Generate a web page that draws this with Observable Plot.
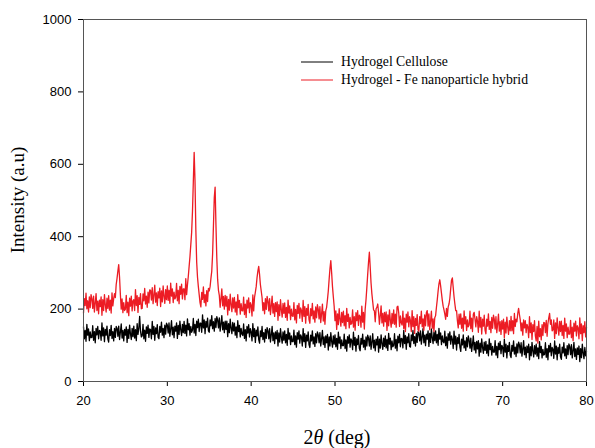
<!DOCTYPE html>
<html><head><meta charset="utf-8">
<script src="https://cdn.jsdelivr.net/npm/d3@7"></script>
<script src="https://cdn.jsdelivr.net/npm/@observablehq/plot@0.6"></script>
<style>
html,body{margin:0;padding:0;background:#fff;}
#chart{position:relative;width:595px;height:448px;}
</style></head><body><div id="chart"></div>
<script>
const startDeg = 20;
const stepDeg = 0.1;
const xTicks = [20, 30, 40, 50, 60, 70, 80];
const yTicks = [0, 200, 400, 600, 800, 1000];
const seriesNames = ["Hydrogel Cellulose", "Hydrogel - Fe nanoparticle hybrid"];
const seriesColors = ["#000000", "#ec1c24"];

// Hydrogel Cellulose, 20.0 .. 80.0 deg, 0.1 deg step (one row per degree)
const cellulose = [
151,118,141,111,158,128,145,113,137,121,
122,154,114,138,107,147,129,152,118,141,
139,114,162,126,148,110,144,128,153,118,
109,143,127,155,119,138,112,147,122,152,
147,125,153,116,136,159,120,141,112,144,
128,151,108,144,119,156,132,116,147,124,
153,120,143,113,160,130,147,180,139,123,
126,158,118,142,111,151,133,156,122,145,
143,118,166,130,152,114,148,132,157,122,
118,152,136,164,128,147,121,156,131,161,
156,134,162,125,145,168,129,150,121,153,
139,162,119,155,130,167,143,127,158,135,
166,133,156,126,173,143,160,128,152,136,
142,174,134,158,127,167,149,172,138,161,
161,136,184,148,170,132,166,150,175,140,
136,170,154,182,146,165,139,174,149,179,
170,148,176,139,159,182,143,164,135,167,
144,167,124,160,135,172,148,132,163,140,
161,128,151,121,168,138,155,123,147,131,
127,159,119,143,112,152,134,157,123,146,
137,112,160,124,146,108,142,126,151,116,
106,140,124,152,116,135,109,144,119,149,
140,118,146,109,129,152,113,134,105,137,
118,141,98,134,109,146,122,106,137,114,
140,107,130,100,147,117,134,102,126,110,
110,142,102,126,95,135,117,140,106,129,
123,98,146,110,132,94,128,112,137,102,
94,128,112,140,104,123,97,132,107,137,
129,107,135,98,118,141,102,123,94,126,
107,130,87,123,98,135,111,95,126,103,
129,96,119,89,136,106,123,91,115,99,
99,131,91,115,84,124,106,129,95,118,
113,88,136,100,122,84,118,102,127,92,
85,119,103,131,95,114,88,123,98,128,
120,98,126,89,109,132,93,114,85,117,
101,124,81,117,92,129,105,89,120,97,
126,93,116,86,133,103,120,88,112,96,
100,132,92,116,85,125,107,130,96,119,
118,93,141,105,127,89,123,107,132,97,
95,129,113,141,105,124,98,133,108,138,
134,112,140,103,123,146,107,128,99,131,
117,140,97,133,108,145,121,105,136,113,
140,107,130,100,147,117,134,102,126,110,
107,139,99,123,92,132,114,137,103,126,
116,91,139,103,125,87,121,105,130,95,
83,117,101,129,93,112,86,121,96,126,
114,92,120,83,103,126,87,108,79,111,
90,113,70,106,81,118,94,78,109,86,
111,78,101,71,118,88,105,73,97,81,
81,113,73,97,66,106,88,111,77,100,
94,69,117,81,103,65,99,83,108,73,
66,100,84,112,76,95,69,104,79,109,
101,79,107,70,90,113,74,95,66,98,
80,103,60,96,71,108,84,68,99,76,
103,70,93,63,110,80,97,65,89,73,
75,107,67,91,60,100,82,105,71,94,
89,64,112,76,98,60,94,78,103,68,
61,95,79,107,71,90,64,99,74,104,
96,74,102,65,85,108,69,90,61,93,
75,98,55,91,66,103,79,63,94,71,
84
];

// Hydrogel - Fe nanoparticle hybrid, 20.0 .. 80.0 deg, 0.1 deg step
const hybrid = [
189,229,210,244,201,223,192,234,204,240,
229,202,236,192,216,243,196,222,187,225,
207,234,183,226,196,240,212,192,230,202,
237,197,225,189,245,209,229,243,232,268,
285,305,323,288,240,200,228,190,218,196,
200,238,190,219,182,230,208,236,195,223,
226,196,254,210,237,191,232,213,243,201,
202,242,223,257,214,236,205,247,217,253,
252,225,259,215,239,266,219,245,210,248,
231,258,207,250,220,264,236,216,254,226,
264,224,252,216,272,236,256,218,247,228,
233,271,223,252,215,263,241,269,228,256,
256,226,284,240,267,290,318,345,378,412,
470,552,633,555,420,330,288,262,240,218,
206,246,227,261,218,240,209,251,221,257,
250,262,285,305,352,430,508,537,432,342,
282,252,238,205,229,256,209,235,200,238,
208,235,184,227,197,241,213,193,231,203,
232,192,220,184,240,204,224,186,215,196,
195,233,185,214,177,225,203,231,190,218,
211,181,239,195,232,247,262,287,305,318,
296,268,250,232,196,218,187,229,199,235,
222,195,229,185,209,236,189,215,180,218,
193,220,169,212,182,226,198,178,216,188,
217,177,205,169,225,189,209,171,200,181,
180,218,170,199,162,210,188,216,175,203,
196,166,224,180,207,161,202,183,213,171,
161,201,182,216,173,195,164,206,176,212,
200,173,207,163,187,214,167,193,158,196,
205,226,250,282,312,334,300,262,234,208,
168,195,144,187,157,201,173,153,191,163,
194,154,182,146,202,166,186,148,177,158,
160,198,150,179,142,190,168,196,155,183,
180,150,208,164,191,145,200,226,260,296,
330,357,316,272,242,220,198,195,165,201,
205,214,190,158,182,209,162,188,153,191,
165,192,141,184,154,198,170,150,188,160,
198,158,186,150,206,208,190,152,181,162,
156,194,146,175,138,186,164,192,151,179,
168,138,196,152,179,133,174,155,185,143,
139,179,160,194,151,173,142,184,154,190,
196,153,187,143,167,194,147,173,138,176,
182,205,226,250,270,281,264,244,224,208,
198,186,172,202,180,206,214,230,256,280,
286,260,234,214,196,196,168,148,186,158,
187,147,175,139,195,159,179,141,170,151,
156,194,146,175,138,186,191,172,151,179,
166,136,194,150,177,131,172,153,183,141,
132,172,153,187,144,166,135,177,147,183,
172,145,179,135,159,186,139,165,130,168,
145,172,121,164,134,178,150,130,168,140,
180,140,168,132,188,152,172,165,188,202,
185,170,140,162,128,170,148,168,135,158,
151,121,179,135,162,116,157,138,168,126,
112,152,106,167,124,146,115,157,127,163,
162,135,169,125,160,176,188,158,170,140,
143,170,119,162,132,176,148,128,166,138,
167,127,155,119,175,139,159,121,150,131,
131,169,121,150,113,161,139,167,126,154,
148,118,176,132,159,113,154,135,165,123,
150
];

const angleAt = i => Math.round((startDeg + i * stepDeg) * 10) / 10;
const table = [];
cellulose.forEach((v, i) => table.push({deg: angleAt(i), intensity: v, series: seriesNames[0]}));
hybrid.forEach((v, i) => table.push({deg: angleAt(i), intensity: v, series: seriesNames[1]}));

const serif = "'Liberation Serif','Times New Roman',serif";

const plot = Plot.plot({
  width: 595,
  height: 448,
  marginLeft: 83,
  marginRight: 9,
  marginTop: 19,
  marginBottom: 67,
  style: {fontFamily: "'Liberation Sans', Arial, sans-serif", fontSize: "13px", color: "#000", background: "#fff", overflow: "visible"},
  x: {domain: [20, 80], ticks: xTicks, tickSize: 5, tickPadding: 9, label: null, tickFormat: d => String(d)},
  y: {domain: [0, 1000], ticks: yTicks, tickSize: 5, tickPadding: 7, label: null, tickFormat: d => String(d)},
  color: {domain: seriesNames, range: seriesColors},
  marks: [
    Plot.line(table, {x: "deg", y: "intensity", stroke: "series", z: "series", strokeWidth: 1.3}),
    Plot.frame({stroke: "#555"})
  ]
});

const svg = d3.select(plot);
// axis titles
svg.append("text")
  .attr("transform", "translate(24,200) rotate(-90)")
  .attr("text-anchor", "middle")
  .style("font-family", serif).style("font-size", "19px").attr("fill", "#000")
  .text("Intensity (a.u)");
const xt = svg.append("text")
  .attr("x", 337).attr("y", 444)
  .attr("text-anchor", "middle")
  .style("font-family", serif).style("font-size", "20px").attr("fill", "#000");
xt.append("tspan").text("2");
xt.append("tspan").style("font-style", "italic").text("θ");
xt.append("tspan").text(" (deg)");

// legend
const lg = svg.append("g").style("font-family", serif).style("font-size", "13.7px").attr("text-anchor", "start");
seriesNames.forEach((name, k) => {
  const yy = 62 + k * 18;
  lg.append("line").attr("x1", 301).attr("x2", 333).attr("y1", yy).attr("y2", yy)
    .attr("stroke", seriesColors[k]).attr("stroke-width", 1);
  lg.append("text").attr("x", 341).attr("y", yy + 4).attr("text-anchor", "start").attr("fill", "#000").text(name);
});

document.getElementById("chart").appendChild(plot);
</script>
</body></html>
